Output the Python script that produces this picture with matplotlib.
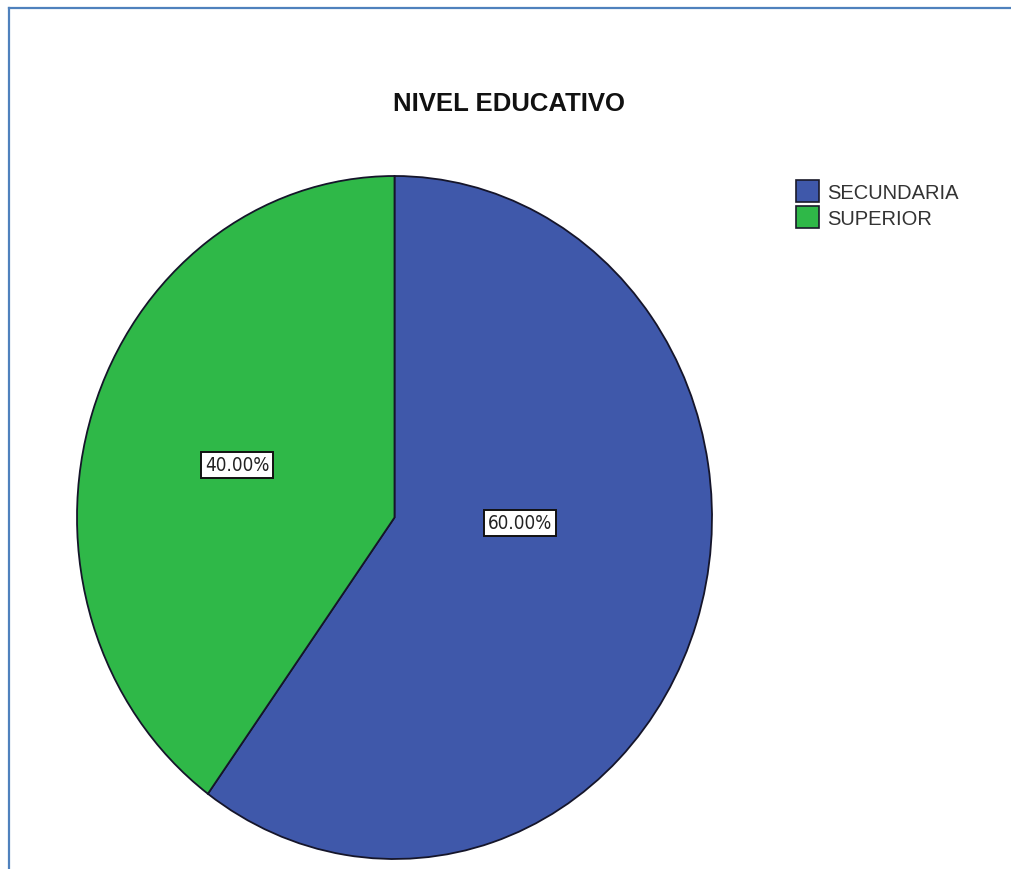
import matplotlib.pyplot as plt
from matplotlib.lines import Line2D

W, H = 1011, 870
plt.rcParams.update({"font.family": ["Liberation Sans", "DejaVu Sans"]})

categories = ["SECUNDARIA", "SUPERIOR"]
shares = [60.0, 40.0]
colors = ["#3F58AA", "#2FB848"]
# label centres in axes data units, one per wedge
label_xy = [(0.395, -0.016), (-0.496, 0.154)]

fig = plt.figure(figsize=(W / 100, H / 100), dpi=100)
# pie spans x 77..712 px, y 177..860 px (slightly taller than wide)
ax = fig.add_axes([77 / W, (H - 860) / H, 635 / W, 683 / H])
wedges, _ = ax.pie(shares, colors=colors, startangle=90, counterclock=False,
                   radius=1, wedgeprops=dict(edgecolor="#15152a", linewidth=1.3))
for w in wedges:
    w.set_clip_on(False)
ax.set_aspect("auto")
ax.set_xlim(-1, 1)
ax.set_ylim(-1, 1)
ax.axis("off")

for v, (x, y) in zip(shares, label_xy):
    ax.text(x, y, f"{v:.2f}%", ha="center", va="center", fontsize=13.5,
            family="DejaVu Sans", fontstretch="condensed", color="#222222",
            bbox=dict(boxstyle="square,pad=0.2", fc="white", ec="#111111", lw=1.4))

fig.text(509 / W, 1 - 104 / H, "NIVEL EDUCATIVO", ha="center", va="center",
         fontsize=18.5, fontweight="bold", color="#111111")

leg = fig.legend(wedges, categories, loc="upper left",
                 bbox_to_anchor=(788 / W, 1 - 173 / H), frameon=False,
                 fontsize=14.5, handlelength=1.15, handleheight=1.3,
                 handletextpad=0.4, labelspacing=0.2, borderaxespad=0)
for t in leg.get_texts():
    t.set_color("#333333")
for p in leg.get_patches():
    p.set_edgecolor("#1a1a2a")
    p.set_linewidth(1.2)

# thin blue frame along the top and left edges
frame = "#4F81BD"
fig.add_artist(Line2D([9 / W, 1], [1 - 9 / H, 1 - 9 / H], color=frame, lw=1.6,
                      transform=fig.transFigure))
fig.add_artist(Line2D([9 / W, 9 / W], [0, 1 - 9 / H], color=frame, lw=1.6,
                      transform=fig.transFigure))

fig.savefig("out.png", dpi=100)
